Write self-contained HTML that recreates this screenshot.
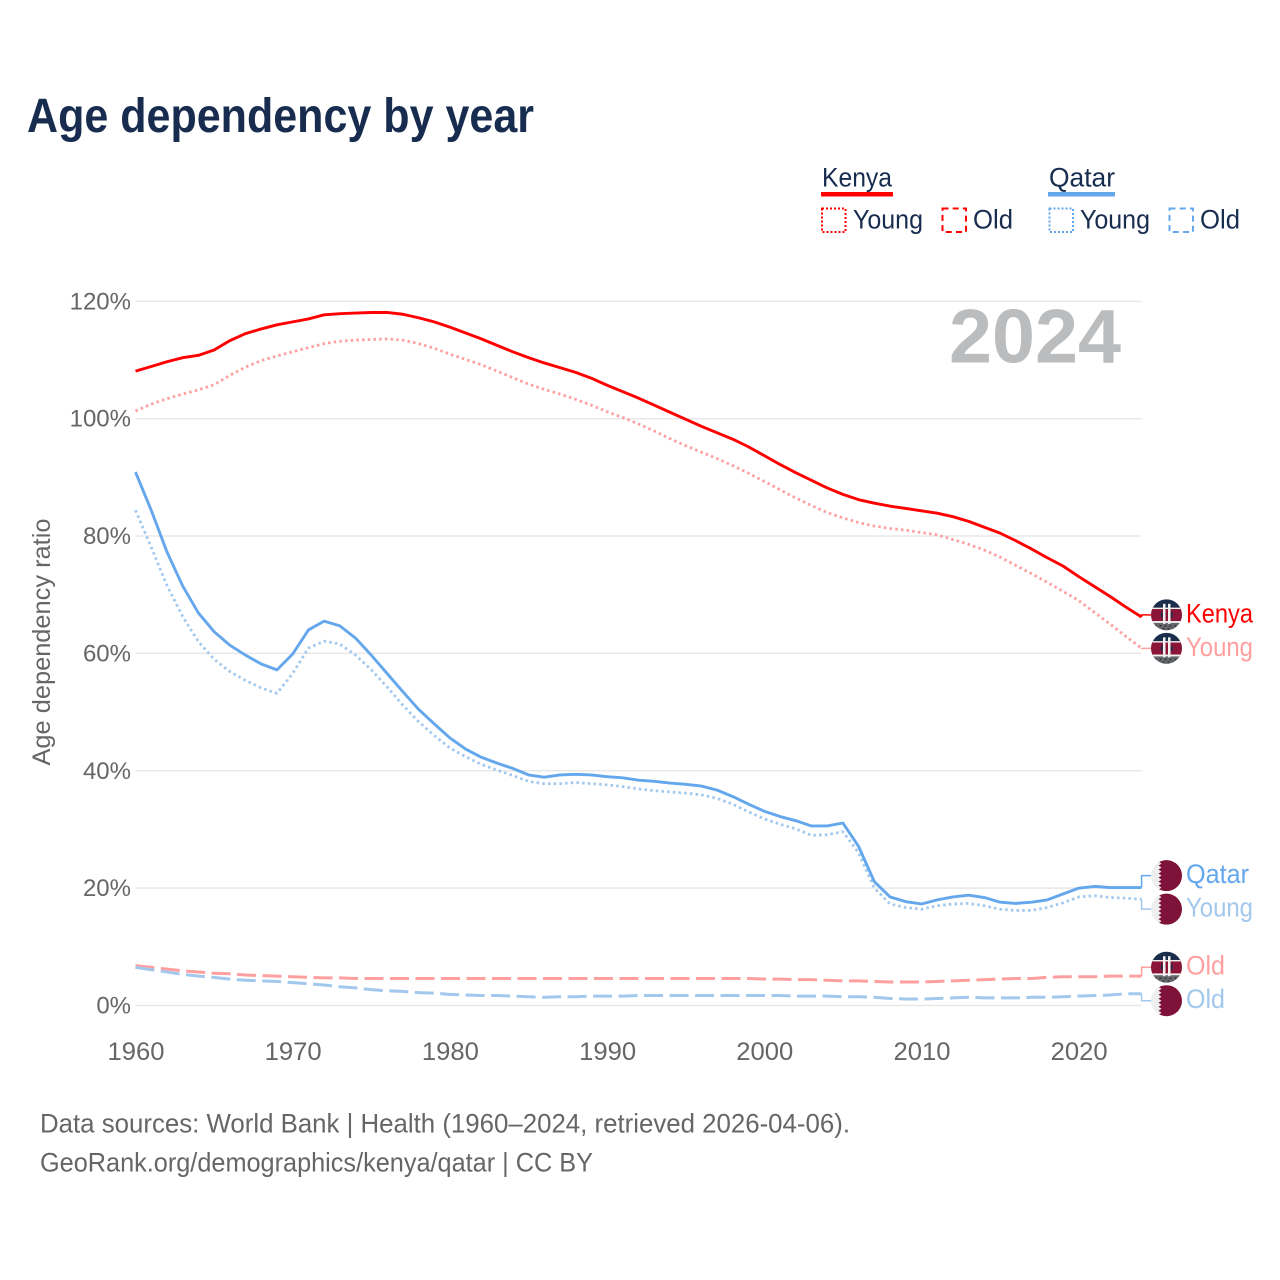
<!DOCTYPE html>
<html lang="en">
<head>
<meta charset="utf-8">
<title>Age dependency by year</title>
<style>
html,body{margin:0;padding:0;background:#fff;}
svg{display:block;font-family:"Liberation Sans",sans-serif;}
</style>
</head>
<body>
<svg id="chart" xmlns="http://www.w3.org/2000/svg" width="1280" height="1280" viewBox="0 0 1280 1280">
<defs>
<clipPath id="flag-clip"><circle cx="0" cy="0" r="15.5"></circle></clipPath>
<g id="flag-kenya" clip-path="url(#flag-clip)">
<rect x="-16" y="-16" width="32" height="32" fill="#eeeeee"></rect>
<rect x="-16" y="-16" width="32" height="10" fill="#1a2e4c"></rect>
<rect x="-16" y="-7" width="32" height="14" fill="#8a1538"></rect>
<rect x="-16" y="8" width="32" height="8" fill="#66686c"></rect>
<rect x="-16" y="-7.2" width="32" height="1.4" fill="#f2f2f2"></rect>
<rect x="-16" y="6.2" width="32" height="1.6" fill="#f2f2f2"></rect>
<rect x="-3.5" y="-11" width="2.5" height="20" fill="#f2f2f2"></rect>
<rect x="1.5" y="-11" width="2.5" height="20" fill="#f2f2f2"></rect>
<rect x="-5.5" y="-3" width="1.5" height="6" fill="#1a2e4c"></rect>
<rect x="4.5" y="-3" width="1.5" height="6" fill="#1a2e4c"></rect>
<path d="M-12 10h2v2h-2zM-7 10h2v2h-2zM-2 10h2v2h-2zM3 10h2v2h-2zM8 10h2v2h-2zM-9 13h2v2h-2zM-4 13h2v2h-2zM1 13h2v2h-2zM6 13h2v2h-2z" fill="#3c3e44"></path>
</g>
<g id="flag-qatar" clip-path="url(#flag-clip)">
<rect x="-16" y="-16" width="32" height="32" fill="#eeeeee"></rect>
<path d="M16 -16 H-6 L-8 -14 L-5 -12 L-8 -10 L-5 -8 L-8 -6 L-5 -4 L-8 -2 L-5 0 L-8 2 L-5 4 L-8 6 L-5 8 L-8 10 L-5 12 L-8 14 L-6 16 H16 Z" fill="#7f1239"></path>
</g>
</defs>

<rect x="0" y="0" width="1280" height="1280" fill="#ffffff"></rect>

<text x="27" y="132" font-size="48" font-weight="700" fill="#172c4e" textLength="507" lengthAdjust="spacingAndGlyphs">Age dependency by year</text>

<g font-size="27" fill="#172c4e">
<text x="822" y="186.5" textLength="70" lengthAdjust="spacingAndGlyphs">Kenya</text>
<rect x="821" y="192" width="72" height="4.5" fill="#ff0000"></rect>
<rect x="822" y="208.5" width="23.5" height="23.5" fill="none" stroke="#ff0000" stroke-width="2" stroke-dasharray="2 2"></rect>
<text x="853" y="228.5" textLength="70" lengthAdjust="spacingAndGlyphs">Young</text>
<rect x="942.5" y="208.5" width="23.5" height="23.5" fill="none" stroke="#ff0000" stroke-width="2" stroke-dasharray="6 4.2"></rect>
<text x="973" y="228.5" textLength="40" lengthAdjust="spacingAndGlyphs">Old</text>
<text x="1049" y="186.5" textLength="66" lengthAdjust="spacingAndGlyphs">Qatar</text>
<rect x="1048" y="192" width="67" height="4.5" fill="#64a7ec"></rect>
<rect x="1049.5" y="208.5" width="23.5" height="23.5" fill="none" stroke="#64a7ec" stroke-width="2" stroke-dasharray="2 2"></rect>
<text x="1080" y="228.5" textLength="70" lengthAdjust="spacingAndGlyphs">Young</text>
<rect x="1169.5" y="208.5" width="23.5" height="23.5" fill="none" stroke="#64a7ec" stroke-width="2" stroke-dasharray="6 4.2"></rect>
<text x="1200" y="228.5" textLength="40" lengthAdjust="spacingAndGlyphs">Old</text>
</g>

<text transform="translate(50,642) rotate(-90)" text-anchor="middle" font-size="25" fill="#666666" textLength="247" lengthAdjust="spacingAndGlyphs">Age dependency ratio</text>

<g id="grid-layer"></g>
<g id="tick-layer"></g>
<text x="1121" y="362.5" text-anchor="end" font-size="76" font-weight="700" fill="#bbbcbe" textLength="172" lengthAdjust="spacingAndGlyphs">2024</text>
<g id="series-layer"></g>
<g id="label-layer"></g>

<g font-size="27" fill="#666666">
<text x="40" y="1132.5" textLength="810" lengthAdjust="spacingAndGlyphs">Data sources: World Bank | Health (1960–2024, retrieved 2026-04-06).</text>
<text x="40" y="1171.5" textLength="553" lengthAdjust="spacingAndGlyphs">GeoRank.org/demographics/kenya/qatar | CC BY</text>
</g>
</svg>

<script>
const firstYear = 1960;
const yTicks = [0, 20, 40, 60, 80, 100, 120];
const xTicks = [1960, 1970, 1980, 1990, 2000, 2010, 2020];

const kenyaTotal = [
108.1,108.9,109.7,110.4,110.8,111.7,113.3,114.5,115.3,116.0,
116.5,117.0,117.7,117.9,118.0,118.1,118.1,117.8,117.2,116.5,
115.6,114.6,113.6,112.5,111.4,110.4,109.5,108.7,107.9,106.9,
105.7,104.6,103.5,102.3,101.1,99.9,98.7,97.6,96.5,95.2,
93.7,92.2,90.8,89.5,88.2,87.1,86.2,85.6,85.1,84.7,
84.3,83.9,83.3,82.5,81.5,80.5,79.2,77.8,76.3,74.9,
73.1,71.4,69.7,67.9,66.2];
const kenyaYoung = [
101.3,102.5,103.4,104.2,104.9,105.8,107.4,108.8,109.9,110.7,
111.4,112.1,112.8,113.2,113.4,113.5,113.6,113.4,112.8,112.0,
111.0,110.1,109.2,108.1,107.0,105.9,105.0,104.2,103.3,102.3,
101.2,100.2,99.1,97.9,96.6,95.4,94.3,93.2,92.0,90.7,
89.3,87.9,86.5,85.2,84.0,83.1,82.3,81.7,81.3,81.0,
80.6,80.2,79.4,78.6,77.6,76.4,75.0,73.6,72.1,70.6,
69.0,67.0,65.0,62.9,60.9];
const kenyaOld = [
6.8,6.5,6.2,5.9,5.7,5.5,5.4,5.2,5.1,5.0,
4.9,4.8,4.7,4.7,4.6,4.6,4.6,4.6,4.6,4.6,
4.6,4.6,4.6,4.6,4.6,4.6,4.6,4.6,4.6,4.6,
4.6,4.6,4.6,4.6,4.6,4.6,4.6,4.6,4.6,4.6,
4.5,4.5,4.4,4.4,4.3,4.2,4.2,4.1,4.0,4.0,
4.0,4.1,4.2,4.3,4.4,4.5,4.6,4.6,4.8,4.9,
4.9,4.9,5.0,5.0,5.0];
const qatarTotal = [
90.9,84.4,77.3,71.5,66.9,63.7,61.4,59.7,58.2,57.2,
59.9,64.0,65.5,64.7,62.6,59.7,56.6,53.5,50.5,48.0,
45.6,43.7,42.3,41.3,40.4,39.3,38.9,39.3,39.4,39.3,
39.0,38.8,38.4,38.2,37.9,37.7,37.4,36.7,35.6,34.3,
33.1,32.2,31.5,30.6,30.6,31.1,27.1,21.1,18.5,17.7,
17.3,18.0,18.5,18.8,18.4,17.6,17.4,17.6,18.0,19.0,
20.0,20.3,20.1,20.1,20.1];
const qatarYoung = [
84.4,78.1,71.6,66.3,62.0,59.0,56.9,55.4,54.1,53.2,
56.6,60.9,62.1,61.6,59.7,57.2,54.3,51.2,48.4,46.0,
43.9,42.4,41.1,40.1,39.2,38.2,37.8,37.8,38.0,37.8,
37.6,37.3,36.9,36.6,36.4,36.2,35.9,35.3,34.3,33.0,
31.8,30.9,30.1,29.0,29.1,29.6,26.0,20.0,17.3,16.7,
16.4,17.0,17.3,17.4,17.0,16.4,16.2,16.2,16.7,17.5,
18.5,18.7,18.4,18.3,18.1];
const qatarOld = [
6.5,6.1,5.7,5.3,5.0,4.8,4.5,4.3,4.2,4.1,
3.9,3.7,3.5,3.2,3.0,2.7,2.5,2.4,2.2,2.1,
1.9,1.8,1.7,1.7,1.6,1.5,1.4,1.5,1.5,1.6,
1.6,1.6,1.7,1.7,1.7,1.7,1.7,1.7,1.7,1.7,
1.7,1.7,1.6,1.6,1.6,1.5,1.5,1.4,1.2,1.1,
1.1,1.2,1.3,1.4,1.3,1.3,1.3,1.4,1.4,1.5,
1.6,1.7,1.8,2.0,2.0];

const NS = 'http://www.w3.org/2000/svg';
const xScale = function (year) { return 135.5 + (year - 1960) * 15.72; };
const yScale = function (pct) { return 1005.5 - pct * 5.868; };

const gridLayer = document.getElementById('grid-layer');
const tickLayer = document.getElementById('tick-layer');
const seriesLayer = document.getElementById('series-layer');
const labelLayer = document.getElementById('label-layer');

yTicks.forEach(function (t) {
  const line = document.createElementNS(NS, 'line');
  
  
  line.setAttribute('x1', xScale(1960));
  line.setAttribute('x2', xScale(2024));
  line.setAttribute('y1', yScale(t));
  line.setAttribute('y2', yScale(t));
  line.setAttribute('stroke', '#e8e8e8');
  line.setAttribute('stroke-width', '1.5');
  gridLayer.appendChild(line);

  const label = document.createElementNS(NS, 'text');
  
  
  label.setAttribute('x', 131);
  label.setAttribute('y', yScale(t) + 8);
  label.setAttribute('text-anchor', 'end');
  label.setAttribute('font-size', '24');
  label.setAttribute('fill', '#666666');
  label.textContent = t + '%';
  tickLayer.appendChild(label);
});

xTicks.forEach(function (t) {
  const label = document.createElementNS(NS, 'text');
  
  
  label.setAttribute('x', xScale(t) + 0.5);
  label.setAttribute('y', 1060);
  label.setAttribute('text-anchor', 'middle');
  label.setAttribute('font-size', '25');
  label.setAttribute('fill', '#666666');
  label.setAttribute('textLength', '57');
  label.setAttribute('lengthAdjust', 'spacingAndGlyphs');
  label.textContent = String(t);
  tickLayer.appendChild(label);
});

const seriesList = [
  { id: 'kenya-old', values: kenyaOld, color: '#ff9f9f', dash: '19 6.5', width: 3, label: 'Old', flag: 'flag-kenya', textWidth: 39 },
  { id: 'qatar-old', values: qatarOld, color: '#a2c8ee', dash: '19 6.5', width: 3, label: 'Old', flag: 'flag-qatar', textWidth: 39 },
  { id: 'kenya-young', values: kenyaYoung, color: '#ff9f9f', dash: '2.5 3.2', width: 2.8, label: 'Young', flag: 'flag-kenya', textWidth: 67 },
  { id: 'qatar-young', values: qatarYoung, color: '#a2c8ee', dash: '2.5 3.2', width: 2.8, label: 'Young', flag: 'flag-qatar', textWidth: 67 },
  { id: 'kenya-total', values: kenyaTotal, color: '#ff0000', dash: '', width: 2.9, label: 'Kenya', flag: 'flag-kenya', textWidth: 67 },
  { id: 'qatar-total', values: qatarTotal, color: '#64a7ec', dash: '', width: 2.9, label: 'Qatar', flag: 'flag-qatar', textWidth: 63 }
];

seriesList.forEach(function (s) {
  const d = s.values.map(function (v, i) {
    return (i ? 'L' : 'M') + xScale(firstYear + i).toFixed(2) + ' ' + yScale(v).toFixed(2);
  }).join(' ');
  const path = document.createElementNS(NS, 'path');
  
  
  path.setAttribute('d', d);
  path.setAttribute('fill', 'none');
  path.setAttribute('stroke', s.color);
  path.setAttribute('stroke-width', s.width);
  path.setAttribute('stroke-linejoin', 'round');
  if (s.dash) { path.setAttribute('stroke-dasharray', s.dash); }
  seriesLayer.appendChild(path);
});

/* End labels: start at each line's last value, then push overlapping ones apart. */
const minGap = 33.5;
const placed = seriesList.map(function (s) {
  const endY = yScale(s.values[s.values.length - 1]);
  return { s: s, endY: endY, y: endY };
}).sort(function (a, b) { return a.endY - b.endY; });
for (let pass = 0; pass < 40; pass++) {
  for (let i = 1; i < placed.length; i++) {
    const overlap = minGap - (placed[i].y - placed[i - 1].y);
    if (overlap > 0) {
      placed[i - 1].y -= overlap / 2;
      placed[i].y += overlap / 2;
    }
  }
}

placed.forEach(function (p) {
  const cy = p.y - 1;
  const x0 = xScale(2024);
  const conn = document.createElementNS(NS, 'path');
  
  
  conn.setAttribute('d', 'M' + x0 + ' ' + p.endY.toFixed(2) + ' V' + cy.toFixed(2) + ' H1152');
  conn.setAttribute('fill', 'none');
  conn.setAttribute('stroke', p.s.color);
  conn.setAttribute('stroke-width', '1.5');
  labelLayer.appendChild(conn);

  const flag = document.createElementNS(NS, 'use');
  
  
  flag.setAttribute('href', '#' + p.s.flag);
  flag.setAttribute('transform', 'translate(1166.5,' + cy.toFixed(2) + ')');
  labelLayer.appendChild(flag);

  const text = document.createElementNS(NS, 'text');
  
  
  text.setAttribute('x', 1186);
  text.setAttribute('y', cy + 7.5);
  text.setAttribute('font-size', '27');
  text.setAttribute('fill', p.s.color);
  text.setAttribute('textLength', p.s.textWidth);
  text.setAttribute('lengthAdjust', 'spacingAndGlyphs');
  text.textContent = p.s.label;
  labelLayer.appendChild(text);
});
</script>
</body>
</html>
